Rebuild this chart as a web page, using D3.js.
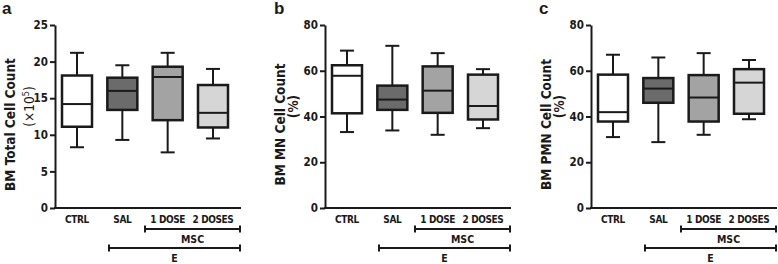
<!DOCTYPE html>
<html>
<head>
<meta charset="utf-8">
<script src="https://cdn.jsdelivr.net/npm/d3@7/dist/d3.min.js"></script>
<style>
  body { margin: 0; background: #fff; }
  svg { display: block; }
  text { font-family: "Liberation Sans Narrow", "Arial Narrow", "DejaVu Sans Condensed", sans-serif; font-weight: bold; fill: #1a1a1a; }
</style>
</head>
<body>
<svg id="chart" width="778" height="264"></svg>
<script>
// groups on the x axis
const categories = ["CTRL", "SAL", "1 DOSE", "2 DOSES"];
const groupFills = ["#ffffff", "#6b6b6b", "#a3a3a3", "#d6d6d6"];

// box stats per group: [min, q1, median, q3, max]
const totalCells = [[8.3, 11.1, 14.2, 18.1, 21.2], [9.3, 13.4, 16.0, 17.8, 19.5], [7.6, 12.0, 17.9, 19.3, 21.2], [9.5, 11.0, 13.0, 16.8, 19.0]];
const mnCells = [[33.2, 41.4, 57.8, 62.4, 68.8], [33.9, 42.9, 47.4, 53.5, 70.9], [32.0, 41.6, 51.3, 61.9, 67.7], [34.9, 38.7, 44.6, 58.3, 60.7]];
const pmnCells = [[31.0, 37.8, 41.9, 58.3, 67.0], [28.8, 46.0, 52.2, 56.8, 65.8], [32.0, 37.8, 48.3, 58.1, 67.7], [38.8, 41.2, 54.8, 60.7, 64.7]];

const ticksA = [0, 5, 10, 15, 20, 25];
const ticksPct = [0, 20, 40, 60, 80];

const panels = [
    {letter: "a", left: 55, letterX: 2, data: totalCells, max: 25, ticks: ticksA, title: "BM Total Cell Count", sub: "exp"},
    {letter: "b", left: 325, letterX: 274, data: mnCells, max: 80, ticks: ticksPct, title: "BM MN Cell Count", sub: "(%)"},
    {letter: "c", left: 591, letterX: 539, data: pmnCells, max: 80, ticks: ticksPct, title: "BM PMN Cell Count", sub: "(%)"}
];

let svg = d3.select("#chart");
let top_y = 25, bottom_y = 208, axis_len = 186, box_w = 30, cap_w = 14;

panels.forEach(function (p) {
    let g = svg.append("g").attr("transform", "translate(" + p.left + ",0)");

    let yScale = d3.scaleLinear().domain([0, p.max]).range([bottom_y, top_y]);
    let xScale = d3.scalePoint().domain(categories).range([22, 158]);

    // panel letter
    svg.append("text")
        .attr("x", p.letterX).attr("y", 14)
        .style("font-family", "'Liberation Sans', Arial, sans-serif")
        .style("font-size", "17px")
        .text(p.letter);

    // y axis
    let yAxis = d3.axisLeft(yScale).tickValues(p.ticks).tickSize(5).tickSizeOuter(0).tickPadding(2);
    let ya = g.append("g").call(yAxis);
    ya.select(".domain").attr("stroke", "#1a1a1a").attr("stroke-width", 2);
    ya.selectAll(".tick line").attr("stroke", "#1a1a1a").attr("stroke-width", 2);
    ya.selectAll(".tick text").style("font-size", "11.5px").attr("fill", "#1a1a1a");

    // x axis line
    g.append("line")
        .attr("x1", -1).attr("x2", axis_len)
        .attr("y1", bottom_y).attr("y2", bottom_y)
        .attr("stroke", "#1a1a1a").attr("stroke-width", 2);

    // category labels
    g.selectAll(".cat").data(categories).enter().append("text")
        .attr("class", "cat")
        .attr("x", d => xScale(d))
        .attr("y", 223)
        .attr("text-anchor", "middle")
        .style("font-size", "10px")
        .style("letter-spacing", "-0.4px")
        .text(d => d);

    // y titles
    g.append("text")
        .attr("transform", "translate(-40," + ((top_y + bottom_y) / 2 + 8) + ") rotate(-90)")
        .attr("text-anchor", "middle")
        .style("font-size", "13.5px")
        .text(p.title);
    let sub = g.append("text")
        .attr("transform", "translate(" + (p.letter == "a" ? -21 : -27) + "," + ((top_y + bottom_y) / 2 - 10) + ") rotate(-90)")
        .attr("text-anchor", "middle")
        .style("font-size", "13.5px");
    if (p.sub == "exp") {
        sub.style("font-weight", "normal");
        sub.append("tspan").text("(\u00d710");
        sub.append("tspan").attr("dy", -5).style("font-size", "9px").text("5");
        sub.append("tspan").attr("dy", 5).text(")");
    } else {
        sub.text(p.sub);
    }

    // boxes
    let boxes = g.selectAll(".box").data(p.data).enter().append("g")
        .attr("class", "box")
        .attr("transform", (d, i) => "translate(" + xScale(categories[i]) + ",0)");

    boxes.append("line")
        .attr("x1", 0).attr("x2", 0)
        .attr("y1", d => yScale(d[0])).attr("y2", d => yScale(d[4]))
        .attr("stroke", "#1a1a1a").attr("stroke-width", 2);
    boxes.selectAll(".cap").data(d => [d[0], d[4]]).enter().append("line")
        .attr("x1", -cap_w / 2).attr("x2", cap_w / 2)
        .attr("y1", v => yScale(v)).attr("y2", v => yScale(v))
        .attr("stroke", "#1a1a1a").attr("stroke-width", 2);
    boxes.append("rect")
        .attr("x", -box_w / 2).attr("width", box_w)
        .attr("y", d => yScale(d[3]))
        .attr("height", d => yScale(d[1]) - yScale(d[3]))
        .attr("fill", (d, i) => groupFills[i])
        .attr("stroke", "#1a1a1a").attr("stroke-width", 2.5);
    boxes.append("line")
        .attr("x1", -box_w / 2).attr("x2", box_w / 2)
        .attr("y1", d => yScale(d[2])).attr("y2", d => yScale(d[2]))
        .attr("stroke", "#1a1a1a").attr("stroke-width", 2);

    // treatment brackets
    let brackets = [{label: "MSC", x1: 90, y: 229}, {label: "E", x1: 54, y: 248}];
    brackets.forEach(function (b) {
        let x2 = axis_len - 1;
        g.append("line").attr("x1", b.x1).attr("x2", x2).attr("y1", b.y).attr("y2", b.y)
            .attr("stroke", "#1a1a1a").attr("stroke-width", 2);
        [b.x1, x2].forEach(function (x) {
            g.append("line").attr("x1", x).attr("x2", x).attr("y1", b.y - 3.5).attr("y2", b.y + 3.5)
                .attr("stroke", "#1a1a1a").attr("stroke-width", 2);
        });
        g.append("text")
            .attr("x", (b.x1 + x2) / 2)
            .attr("y", b.y + 14)
            .attr("text-anchor", "middle")
            .style("font-size", "10.5px")
            .text(b.label);
    });
});
</script>
</body>
</html>
